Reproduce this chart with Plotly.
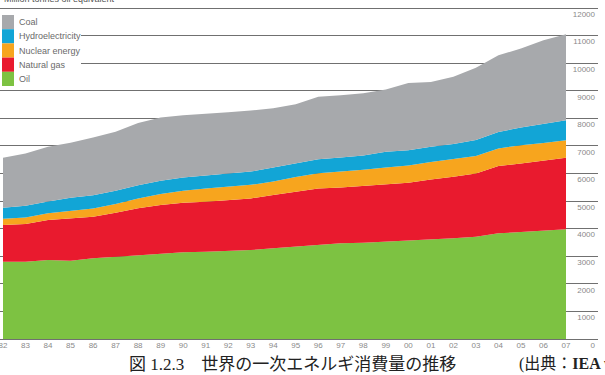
import plotly.graph_objects as go

years = list(range(1982, 2008))
year_labels = [str(y)[2:] for y in years]

oil = [2801, 2801, 2862, 2837, 2924, 2982, 3043, 3105, 3141, 3163, 3188, 3225, 3286,
       3344, 3406, 3467, 3489, 3525, 3562, 3587, 3649, 3707, 3830, 3877, 3924, 3975]
natural_gas = [1329, 1366, 1450, 1536, 1507, 1594, 1693, 1750, 1797, 1812, 1848, 1873, 1931,
               1993, 2054, 2029, 2054, 2091, 2101, 2199, 2231, 2297, 2438, 2489, 2536, 2594]
nuclear = [230, 240, 250, 270, 300, 320, 360, 400, 435, 480, 485, 490, 490,
           540, 550, 565, 590, 600, 630, 635, 635, 630, 640, 660, 650, 640]
hydro = [400, 420, 420, 480, 480, 480, 482, 482, 486, 482, 486, 482, 508,
         486, 507, 521, 518, 570, 550, 545, 555, 580, 600, 640, 700, 725]
coal = [1811, 1899, 1992, 1992, 2091, 2138, 2257, 2297, 2257, 2221, 2210, 2210, 2152,
        2148, 2268, 2258, 2257, 2261, 2438, 2355, 2439, 2620, 2779, 2863, 3018, 3116]

series_names = ["Oil", "Natural gas", "Nuclear energy", "Hydroelectricity", "Coal"]
series_values = [oil, natural_gas, nuclear, hydro, coal]
series_colors = ["#7DC242", "#E91A2E", "#F7A51E", "#12A5D6", "#A7A9AC"]

y_ticks = list(range(0, 12001, 1000))
y_tick_labels = [str(v) for v in y_ticks]

W, H = 605, 375
ML, MR, MT, MB = 0, 7, 4, 36
PW, PH = W - ML - MR, H - MT - MB


def px(x):
    return (x - ML) / PW


def py(y):
    return (H - MB - y) / PH


narrow = "Liberation Sans Narrow, Liberation Sans, Arial, sans-serif"

fig = go.Figure()
for name, vals, col in zip(series_names, series_values, series_colors):
    fig.add_trace(go.Scatter(
        x=years, y=vals, name=name, mode="lines", stackgroup="one",
        line=dict(width=0, color=col), fillcolor=col, showlegend=False,
        hoverinfo="x+y+name",
    ))

# legend (drawn manually to match the square, contiguous swatches)
shapes = [dict(type="rect", xref="paper", yref="paper", x0=px(0), x1=px(81),
               y0=py(89), y1=py(11), fillcolor="white", line=dict(width=0), layer="above")]
annotations = []
legend_order = list(zip(series_names, series_colors))[::-1]
top, step = 15.0, 14.2
for i, (name, col) in enumerate(legend_order):
    y0 = top + i * step
    y1 = y0 + step
    shapes.append(dict(type="rect", xref="paper", yref="paper", x0=px(2), x1=px(14),
                       y0=py(y1), y1=py(y0), fillcolor=col, line=dict(width=0), layer="above"))
    annotations.append(dict(text=name, xref="paper", yref="paper", x=px(17), y=py((y0 + y1) / 2),
                            xanchor="left", yanchor="middle", showarrow=False,
                            font=dict(family=narrow, size=9, color="#6a6a6a")))

annotations.append(dict(text="Million tonnes oil equivalent", xref="paper", yref="paper",
                        x=px(2), y=py(6), xanchor="left", yanchor="bottom", showarrow=False,
                        font=dict(family=narrow, size=9, color="#555555")))

serif = "Liberation Serif, Noto Sans CJK JP, serif"
annotations.append(dict(text="図 1.2.3\u3000世界の一次エネルギ消費量の推移", xref="paper", yref="paper",
                        x=px(127), y=py(364), xanchor="left", yanchor="middle", showarrow=False,
                        font=dict(family=serif, size=17, color="#222222")))
annotations.append(dict(text="(出典：<b>IEA w</b>", xref="paper", yref="paper",
                        x=px(517), y=py(364), xanchor="left", yanchor="middle", showarrow=False,
                        font=dict(family=serif, size=16, color="#222222")))

r0 = 1982 - 3 / 22.52
r1 = r0 + PW / 22.52
ytop = (H - MB - MT) * 12000 / 331

fig.update_layout(
    width=W, height=H, margin=dict(l=ML, r=MR, t=MT, b=MB),
    paper_bgcolor="white", plot_bgcolor="white",
    shapes=shapes, annotations=annotations,
    xaxis=dict(range=[r0, r1], tickvals=years, ticktext=year_labels, showgrid=False,
               zeroline=False, showline=False, ticks="", ticklen=0, ticklabeloverflow="allow",
               tickfont=dict(family=narrow, size=8, color="#8a8a8a")),
    yaxis=dict(range=[0, ytop], tickvals=y_ticks, ticktext=y_tick_labels, side="right",
               ticklabelposition="inside", ticklabelshift=6, ticklabeloverflow="allow",
               showgrid=True, gridcolor="#707070", gridwidth=1.2,
               zeroline=True, zerolinecolor="#707070", zerolinewidth=1.2, showline=False,
               ticks="", tickfont=dict(family=narrow, size=8, color="#8a8a8a")),
    showlegend=False,
)

fig.write_html("out.html")
